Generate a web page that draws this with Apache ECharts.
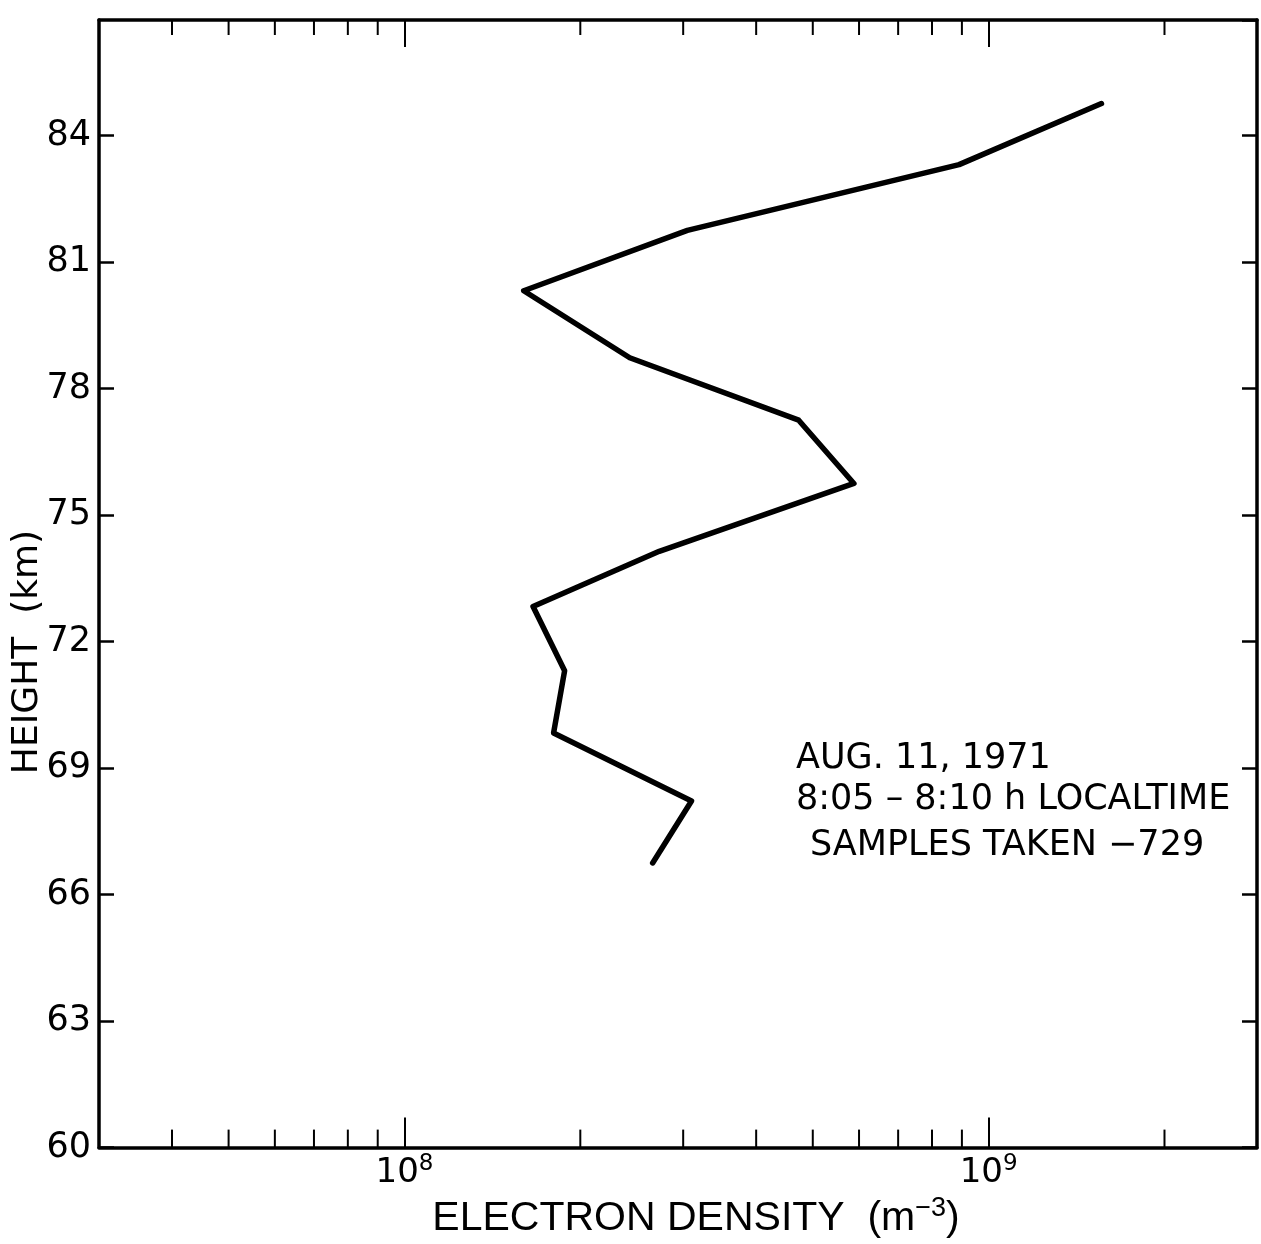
<!DOCTYPE html>
<html>
<head>
<meta charset="utf-8">
<script src="https://cdn.jsdelivr.net/npm/echarts@6/dist/echarts.min.js"></script>
<style>
html,body{margin:0;padding:0;background:#fff;}
#chart{width:1261px;height:1244px;}
</style>
</head>
<body>
<div id="chart"></div>
<script>
// Electron density (m^-3) and height (km) read from the profile
const density = [1.56e9, 8.9e8, 3.05e8, 1.6e8, 2.43e8, 4.73e8, 5.88e8, 2.73e8, 1.66e8, 1.88e8, 1.8e8, 3.1e8, 2.66e8];
const height  = [84.76, 83.31, 81.75, 80.32, 78.73, 77.25, 75.75, 74.14, 72.83, 71.31, 69.83, 68.22, 66.75];

// Axes
const xMin = 3e7, xMax = 2.88e9;
const yMin = 60, yMax = 86.74, yStep = 3;
const minorTickValues = [4e7, 5e7, 6e7, 7e7, 8e7, 9e7, 2e8, 3e8, 4e8, 5e8, 6e8, 7e8, 8e8, 9e8, 2e9];

const annotation = ['AUG. 11, 1971', '8:05 \u2013 8:10 h LOCALTIME', 'SAMPLES TAKEN \u2212729'];

const lineData = density.map((d, i) => [d, height[i]]);
const minorData = minorTickValues.map(v => [v, yMin]);

function isPow10(v) {
  const l = Math.log10(v);
  return Math.abs(l - Math.round(l)) < 1e-6;
}

const chart = echarts.init(document.getElementById('chart'), null, {renderer: 'canvas'});
const axisLine = {show: true, lineStyle: {color: '#000', width: 3.5}};
const option = {
  backgroundColor: '#fff',
  animation: false,
  grid: {left: 99, right: 4, top: 20, bottom: 87.5, containLabel: false},
  xAxis: [
    {
      type: 'log', logBase: 10, min: xMin, max: xMax, position: 'bottom',
      axisLine: axisLine,
      axisTick: {show: true, inside: true, length: 30, lineStyle: {color: '#000', width: 2}},
      splitLine: {show: false},
      axisLabel: {
        show: true, margin: 5, showMinLabel: false, showMaxLabel: false,
        formatter: v => isPow10(v) ? '{b|10}{s|' + Math.round(Math.log10(v)) + '}' : '',
        rich: {
          b: {fontFamily: 'DejaVu Sans', fontSize: 34, color: '#000', verticalAlign: 'bottom', lineHeight: 38},
          s: {fontFamily: 'DejaVu Sans', fontSize: 23, color: '#000', verticalAlign: 'top', lineHeight: 38}
        }
      },
      name: 'ELECTRON DENSITY  (m{s|\u22123})',
      nameLocation: 'middle', nameGap: 44,
      nameTextStyle: {
        fontFamily: 'Liberation Sans', fontSize: 41, color: '#000', padding: [0, 0, 0, 36],
        rich: {s: {fontFamily: 'Liberation Sans', fontSize: 27, color: '#000', verticalAlign: 'top', lineHeight: 46}}
      }
    },
    {
      type: 'log', logBase: 10, min: xMin, max: xMax, position: 'top',
      axisLine: axisLine,
      axisTick: {show: true, inside: true, length: 27, lineStyle: {color: '#000', width: 2}},
      axisLabel: {show: false},
      splitLine: {show: false}
    }
  ],
  yAxis: [
    {
      type: 'value', min: yMin, max: yMax, interval: yStep, position: 'left',
      axisLine: axisLine,
      axisTick: {show: true, inside: true, length: 15, lineStyle: {color: '#000', width: 2.5}},
      splitLine: {show: false},
      axisLabel: {show: true, margin: 8, showMaxLabel: false, color: '#000', fontFamily: 'DejaVu Sans', fontSize: 35}
    },
    {
      type: 'value', min: yMin, max: yMax, interval: yStep, position: 'right',
      axisLine: axisLine,
      axisTick: {show: true, inside: true, length: 15, lineStyle: {color: '#000', width: 2.5}},
      splitLine: {show: false},
      axisLabel: {show: false}
    }
  ],
  graphic: [
    {type: 'text', left: 796, top: 741, style: {text: annotation[0], font: '35px "DejaVu Sans"', fill: '#000'}},
    {type: 'text', left: 796, top: 782, style: {text: annotation[1], font: '35px "DejaVu Sans"', fill: '#000'}},
    {type: 'text', left: 810, top: 828, style: {text: annotation[2], font: '35px "DejaVu Sans"', fill: '#000'}},
    {type: 'text', x: 28, y: 652, rotation: Math.PI / 2,
     style: {text: 'HEIGHT  (km)', font: '36px "DejaVu Sans"', fill: '#000', textAlign: 'center', textVerticalAlign: 'middle'}}
  ],
  series: [
    {
      type: 'custom', xAxisIndex: 0, yAxisIndex: 0, silent: true, clip: false,
      data: minorData,
      encode: {x: 0, y: 1},
      renderItem: function (params, api) {
        const pb = api.coord([api.value(0), yMin]);
        const pt = api.coord([api.value(0), yMax]);
        return {
          type: 'group',
          children: [
            {type: 'line', shape: {x1: pb[0], y1: pb[1], x2: pb[0], y2: pb[1] - 18}, style: {stroke: '#000', lineWidth: 2}},
            {type: 'line', shape: {x1: pt[0], y1: pt[1], x2: pt[0], y2: pt[1] + 15}, style: {stroke: '#000', lineWidth: 2}}
          ]
        };
      }
    },
    {
      type: 'line', xAxisIndex: 0, yAxisIndex: 0,
      data: lineData, symbol: 'none', smooth: false,
      lineStyle: {color: '#000', width: 5.5, join: 'round', cap: 'round'}
    }
  ]
};
chart.setOption(option);
</script>
</body>
</html>
